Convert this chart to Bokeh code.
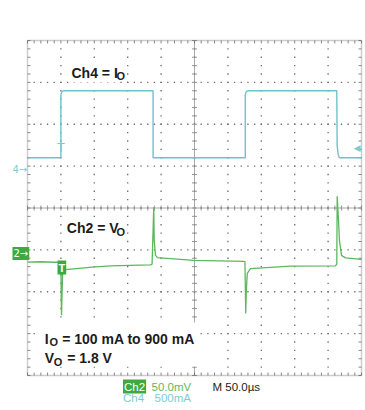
import numpy as np
from bokeh.plotting import figure
from bokeh.models import Range1d, Label, BoxAnnotation
from bokeh.embed import file_html
from bokeh.resources import INLINE

# ---------------- data ----------------
# Ch4 = output current (mA) vs time (us, 0 = trigger)
ch4_time_us = [-50, 0, 0, 1, 2.5, 5, 138, 138, 276, 276, 277, 278.5, 281,
               413, 413.5, 415, 417, 450]
ch4_current_ma = [100, 100, 850, 880, 895, 900, 900, 100, 100, 850, 880, 895, 900,
                  900, 250, 140, 100, 100]

# Ch2 = output voltage deviation (mV) vs time (us)
ch2_time_us = [-50, -30, -10, 0, 0.5, 1, 1.5, 2.5, 4, 7,
               47, 74, 134, 136.5, 137.5, 139, 139.7, 141.6, 144.6,
               198.5, 273, 275.5, 276, 276.7, 277.5, 279, 283.8,
               343.7, 411, 413, 413.6, 415.6, 417, 420, 426, 450]
ch2_voltage_mv = [-14.6, -14.2, -14.8, -14.6, -60, -78, -60, -30, -25, -23.6,
                  -20.5, -19, -18, -17, 10, 51, 11, -6.6, -9.3,
                  -12.5, -13.7, -14, -40, -76, -50, -28, -22.4,
                  -19.3, -19, -17, 64, 35, 11, -6.6, -9.5, -11.3]

# scope settings
TIME_PER_DIV = 50.0      # us/div
CH2_PER_DIV = 50.0       # mV/div
CH4_PER_DIV = 500.0      # mA/div
CH2_GROUND_DIV = -1.0
CH4_GROUND_DIV = 1.0
X_START = -50.0
N_XDIV, N_YDIV = 10, 8

# page layout (pixels)
W, H = 365, 410
GX0, GX1 = 27, 361       # graticule left / right
GY0, GY1 = 40, 375       # graticule top / bottom

CYAN = "#6cc4c9"
CYAN_TXT = "#7ccdd2"
GREEN = "#5cb85c"
GREEN_BOX = "#3fa83f"
GRID = "#6a6a6a"

x_end = X_START + N_XDIV * TIME_PER_DIV
px_per_us = (GX1 - GX0) / (N_XDIV * TIME_PER_DIV)
px_per_div = (GY1 - GY0) / N_YDIV
y_top, y_bot = N_YDIV / 2, -N_YDIV / 2

p = figure(width=W, height=H, output_backend="svg", toolbar_location=None,
           x_range=Range1d(X_START - GX0 / px_per_us, x_end + (W - GX1) / px_per_us),
           y_range=Range1d(y_bot - (H - GY1) / px_per_div, y_top + GY0 / px_per_div),
           x_axis_location=None, y_axis_location=None,
           min_border=0, min_border_left=0, min_border_right=0,
           min_border_top=0, min_border_bottom=0,
           background_fill_color="white", border_fill_color="white")
p.outline_line_color = None
p.grid.visible = False

yr = p.y_range
p.extra_y_ranges = {
    "ch2": Range1d((yr.start - CH2_GROUND_DIV) * CH2_PER_DIV, (yr.end - CH2_GROUND_DIV) * CH2_PER_DIV),
    "ch4": Range1d((yr.start - CH4_GROUND_DIV) * CH4_PER_DIV, (yr.end - CH4_GROUND_DIV) * CH4_PER_DIV),
}

major_x = [X_START + i * TIME_PER_DIV for i in range(N_XDIV + 1)]
minor_x = [X_START + i * TIME_PER_DIV / 5 for i in range(N_XDIV * 5 + 1)]
major_y = [float(v) for v in range(-N_YDIV // 2, N_YDIV // 2 + 1)]
minor_y = [y_bot + i * 0.2 for i in range(N_YDIV * 5 + 1)]

# dotted graticule (dots every 1/5 division on each division line)
gx = [x for y in major_y[1:-1] for x in minor_x[1:-1]]
gy = [y for y in major_y[1:-1] for x in minor_x[1:-1]]
gx += [x for x in major_x[1:-1] for y in minor_y[1:-1]]
gy += [y for x in major_x[1:-1] for y in minor_y[1:-1]]
p.scatter(gx, gy, marker="square", size=1.3, fill_color=GRID, line_color=None)

# border ticks (inward)
tick_x = 3.0 / px_per_us
tick_y = 3.0 / px_per_div
p.segment(x0=minor_x, y0=[y_top] * len(minor_x), x1=minor_x, y1=[y_top - tick_y] * len(minor_x),
          line_color="#8a8a8a", line_width=1)
p.segment(x0=minor_x, y0=[y_bot] * len(minor_x), x1=minor_x, y1=[y_bot + tick_y] * len(minor_x),
          line_color="#8a8a8a", line_width=1)
p.segment(x0=[X_START] * len(minor_y), y0=minor_y, x1=[X_START + tick_x] * len(minor_y), y1=minor_y,
          line_color="#8a8a8a", line_width=1)
p.segment(x0=[x_end] * len(minor_y), y0=minor_y, x1=[x_end - tick_x] * len(minor_y), y1=minor_y,
          line_color="#8a8a8a", line_width=1)

# center cross lines with minor ticks
x_center = X_START + N_XDIV / 2 * TIME_PER_DIV
p.segment(x0=[X_START, x_center], y0=[0, y_bot], x1=[x_end, x_center], y1=[0, y_top],
          line_color="#555555", line_dash="1 1", line_width=1)
p.scatter(x=minor_x, y=[0] * len(minor_x), marker="dash", angle=np.pi / 2, size=5,
          line_color="#9a9a9a", line_width=1)
p.scatter(x=[x_center] * len(minor_y), y=minor_y, marker="dash", size=5,
          line_color="#9a9a9a", line_width=1)

# traces
p.line(ch4_time_us, ch4_current_ma, y_range_name="ch4", line_color=CYAN, line_width=1.4)
p.line(ch2_time_us, ch2_voltage_mv, y_range_name="ch2", line_color=GREEN, line_width=1.3)

# graticule border
p.add_layout(BoxAnnotation(left=X_START, right=x_end, bottom=y_bot, top=y_top,
                           fill_color=None, line_color="#555555", line_width=1.4))


# ---------------- annotations ----------------
def X(px):
    return X_START + (px - GX0) / px_per_us


def Y(py):
    return y_top - (py - GY0) / px_per_div


p.add_layout(BoxAnnotation(left=X(35), right=X(197), bottom=Y(366), top=Y(322),
                           fill_color="white", fill_alpha=1.0, line_color=None))

FONT = "Liberation Sans"
SCOPE_FONT = "Liberation Sans"


def lab(text, px, py, size, color="#1c1c1c", style="bold", font=FONT, bg=None, pad=0):
    kw = {}
    if bg is not None:
        kw = dict(background_fill_color=bg, background_fill_alpha=1.0, padding=pad)
    p.add_layout(Label(x=X(px), y=Y(py), text=text, text_font=font, text_font_size=f"{size}px",
                       text_font_style=style, text_color=color, text_baseline="alphabetic",
                       text_align="left", **kw))


lab("Ch4 = I", 69, 72, 14, bg="white", pad=2)
lab("O", 116, 75.5, 11)
lab("Ch2 = V", 64.3, 227.3, 14, bg="white", pad=2)
lab("O", 116, 231.5, 11)
lab("I", 44.3, 338.3, 14)
lab("O", 49, 341.7, 11)
lab("= 100 mA to 900 mA", 61.7, 338.3, 14)
lab("V", 44.3, 357.3, 14)
lab("O", 53.3, 361, 11)
lab("= 1.8 V", 66.7, 357.3, 14)

# scope readouts
lab("Ch2", 122.5, 386, 11.5, color="white", style="normal", font=SCOPE_FONT, bg=GREEN_BOX, pad=1)
lab("50.0mV", 151, 386, 11.5, color=GREEN, style="normal", font=SCOPE_FONT)
lab("M 50.0\u00b5s", 212, 386, 11.5, color="#1c1c1c", style="normal", font=SCOPE_FONT)
lab("Ch4", 122.5, 397, 11.5, color=CYAN_TXT, style="normal", font=SCOPE_FONT)
lab("500mA", 154, 397, 11.5, color=CYAN_TXT, style="normal", font=SCOPE_FONT)

# channel ground markers and trigger markers
lab("4\u2192", 12, 168.5, 10, color=CYAN_TXT, style="normal", font="DejaVu Sans")
lab("2\u2192", 12, 253, 10, color="white", style="normal", font="DejaVu Sans", bg=GREEN_BOX, pad=1)
lab("T", 56.5, 146.7, 13, color=CYAN_TXT, style="normal")
lab("T", 57, 267, 11, color="white", style="bold", bg=GREEN_BOX, pad=1)
lab("\u25c0", 353, 147, 9, color=CYAN_TXT, style="normal", font="DejaVu Sans")

open("out.html", "w").write(file_html(p, INLINE))
